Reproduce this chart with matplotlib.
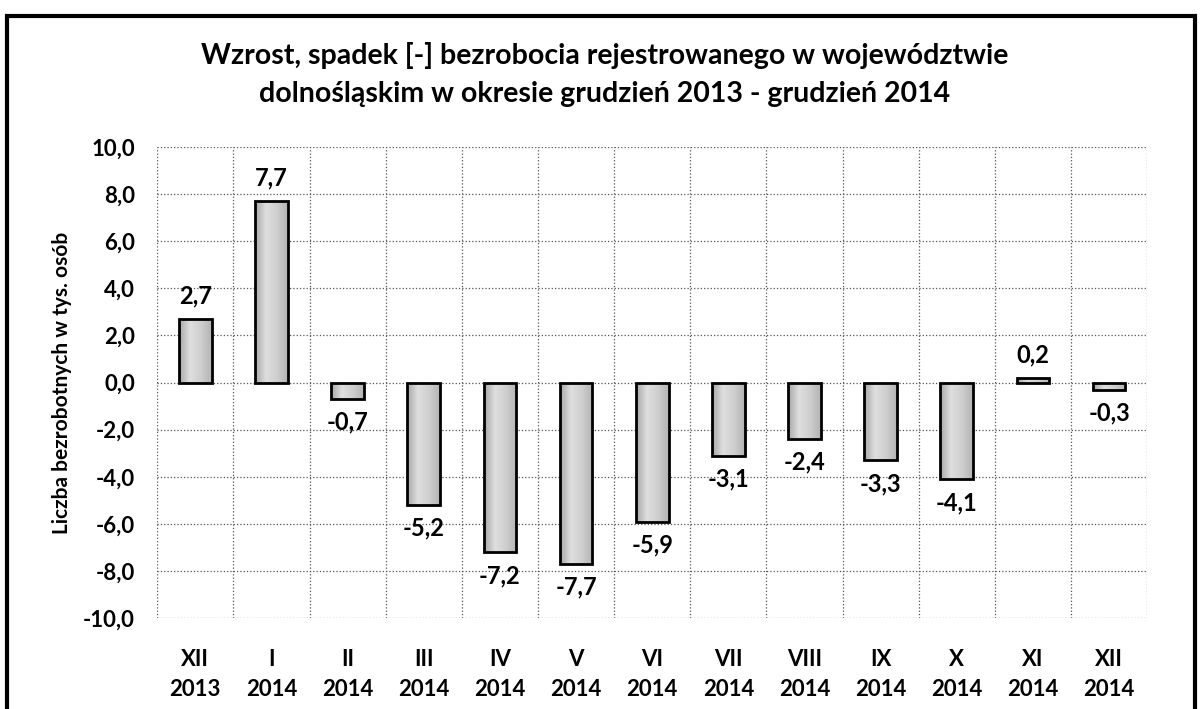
import numpy as np
import matplotlib.pyplot as plt
from matplotlib.patches import Rectangle
from matplotlib.colors import LinearSegmentedColormap

months = ["XII", "I", "II", "III", "IV", "V", "VI", "VII", "VIII", "IX", "X", "XI", "XII"]
years = ["2013"] + ["2014"] * 12
values = [2.7, 7.7, -0.7, -5.2, -7.2, -7.7, -5.9, -3.1, -2.4, -3.3, -4.1, 0.2, -0.3]

plt.rcParams['font.family'] = ['Lato', 'DejaVu Sans']

fig = plt.figure(figsize=(12, 7.09), dpi=100)
ax = fig.add_axes([0.131, 0.128, 0.825, 0.665])

x = np.arange(len(values))
bars = ax.bar(x, values, width=0.43, color='none', edgecolor='black', linewidth=2, zorder=3)

# light grey gradient, darker at the sides
cmap = LinearSegmentedColormap.from_list('bar', ['#a8a8a8', '#dedede', '#cfcfcf', '#b4b4b4'])
grad = np.linspace(0, 1, 64).reshape(1, -1)
for b in bars:
    x0, y0 = b.get_x(), b.get_y()
    w, h = b.get_width(), b.get_height()
    im = ax.imshow(grad, cmap=cmap, aspect='auto',
                   extent=(x0, x0 + w, min(y0, y0 + h), max(y0, y0 + h)), zorder=2)
    im.set_clip_path(b)

for xi, v in zip(x, values):
    lab = f"{v:.1f}".replace('.', ',')
    off = 0.5 if v >= 0 else -0.5
    ax.text(xi, v + off, lab, ha='center', va='bottom' if v >= 0 else 'top',
            fontsize=17, fontweight='bold')

ax.set_xlim(-0.5, len(values) - 0.5)
ax.set_ylim(-10, 10)
ax.set_yticks(np.arange(-10, 11, 2))
ax.set_yticklabels([f"{t:.1f}".replace('.', ',') for t in np.arange(-10, 11, 2)],
                   fontsize=16, fontweight='bold')
ax.set_xticks(x)
ax.set_xticklabels([f"{m}\n{y}" for m, y in zip(months, years)], fontsize=16,
                   fontweight='bold', linespacing=1.55)
ax.set_xticks(np.arange(-0.5, len(values), 1), minor=True)
ax.tick_params(axis='x', length=0, which='both', pad=22)
ax.tick_params(axis='y', length=0, which='both', pad=16)

ax.grid(True, axis='y', linestyle=':', color='#555555', linewidth=0.9)
ax.grid(True, axis='x', which='minor', linestyle=':', color='#555555', linewidth=0.9)
ax.set_axisbelow(True)
for s in ax.spines.values():
    s.set_visible(False)

ax.set_ylabel("Liczba bezrobotnych w tys. osób", fontsize=15, fontweight='bold', labelpad=8)

fig.text(0.504, 0.895, "Wzrost, spadek [-] bezrobocia rejestrowanego w województwie\n"
         "dolnośląskim w okresie grudzień 2013 - grudzień 2014",
         ha='center', va='center', fontsize=20.5, fontweight='bold', linespacing=1.6)

# outer frame
fig.patches.append(Rectangle((0.006, -0.05), 0.99, 1.05 - 0.022, transform=fig.transFigure,
                             fill=False, edgecolor='black', linewidth=3))

fig.savefig("out.png", dpi=100)
